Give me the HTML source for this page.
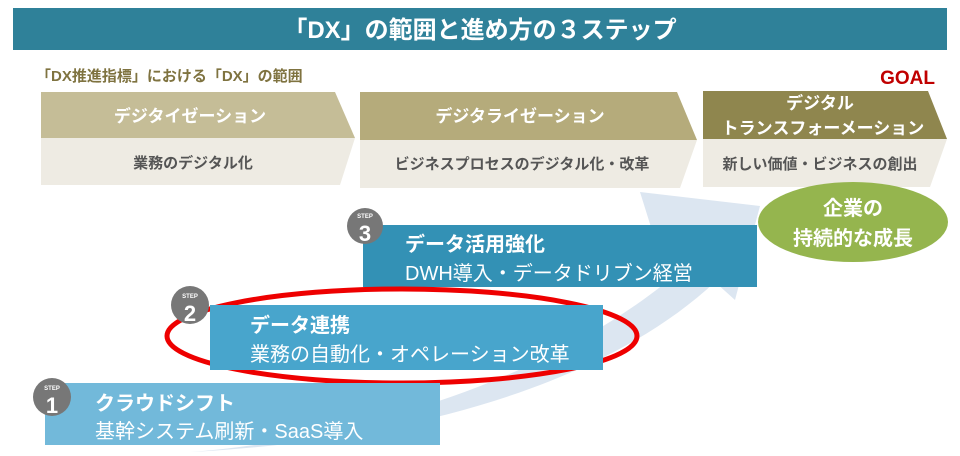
<!DOCTYPE html>
<html><head><meta charset="utf-8"><style>
body{margin:0;background:#fff}
svg{display:block;font-family:"Liberation Sans","Noto Sans CJK JP",sans-serif}
</style></head><body>
<svg width="960" height="456" viewBox="0 0 960 456">
<rect x="13" y="8" width="934" height="42" fill="#2f8199"/>
<text x="480" y="38" text-anchor="middle" fill="#fff" font-size="24" font-weight="bold">「DX」の範囲と進め方の３ステップ</text>
<text x="36" y="81" fill="#7f7340" font-size="15" font-weight="bold">「DX推進指標」における「DX」の範囲</text>
<text x="935" y="84" text-anchor="end" fill="#c00000" font-size="19" font-weight="bold">GOAL</text>

<path d="M41 138 H355 L340 185 H41Z" fill="#eeebe3"/>
<path d="M41 92 H335 L355 138 H41Z" fill="#c5bd97"/>
<path d="M360 140 H697 L680 188 H360Z" fill="#eeebe3"/>
<path d="M360 92 H677 L697 140 H360Z" fill="#b5ab7b"/>
<path d="M703 139 H947 L930 187 H703Z" fill="#eeebe3"/>
<path d="M703 91 H928 L947 139 H703Z" fill="#8f864e"/>
<g fill="#fff" font-size="17" font-weight="bold" text-anchor="middle">
<text x="190" y="122">デジタイゼーション</text>
<text x="520" y="122">デジタライゼーション</text>
<text x="820" y="109">デジタル</text>
<text x="823" y="134">トランスフォーメーション</text>
</g>
<g fill="#555" font-size="15" font-weight="bold" text-anchor="middle">
<text x="193" y="168">業務のデジタル化</text>
<text x="522" y="169">ビジネスプロセスのデジタル化・改革</text>
<text x="820" y="169">新しい価値・ビジネスの創出</text>
</g>

<path d="M190 452 C350 440 560 380 690 262 L655 240 L640 192 L760 206 L735 300 L715 282 C610 380 420 440 190 452Z" fill="#dce6f1"/>

<ellipse cx="853" cy="222" rx="95" ry="40" fill="#95b54e"/>
<g fill="#fff" font-size="20" font-weight="bold" text-anchor="middle">
<text x="853" y="215">企業の</text>
<text x="853" y="245">持続的な成長</text>
</g>

<rect x="363" y="225" width="394" height="62" fill="#3391b5"/>
<ellipse cx="402" cy="336" rx="235" ry="47" fill="none" stroke="#ee0000" stroke-width="5"/>
<rect x="210" y="305" width="393" height="65" fill="#48a5cc"/>
<rect x="45" y="383" width="395" height="62" fill="#72b9da"/>

<g fill="#fff">
<text x="405" y="251" font-size="20" font-weight="bold">データ活用強化</text>
<text x="405" y="280" font-size="20">DWH導入・データドリブン経営</text>
<text x="250" y="332" font-size="20" font-weight="bold">データ連携</text>
<text x="250" y="361" font-size="20">業務の自動化・オペレーション改革</text>
<text x="95" y="410" font-size="20" font-weight="bold">クラウドシフト</text>
<text x="95" y="438" font-size="20">基幹システム刷新・SaaS導入</text>
</g>

<g fill="#777"><circle cx="365" cy="226" r="18"/><circle cx="190" cy="305" r="19"/><circle cx="52" cy="397" r="19"/></g>
<g fill="#fff" text-anchor="middle" font-weight="bold">
<text x="365" y="218" font-size="6">STEP</text><text x="365" y="241" font-size="22">3</text>
<text x="190" y="298" font-size="6">STEP</text><text x="190" y="321" font-size="22">2</text>
<text x="52" y="390" font-size="6">STEP</text><text x="52" y="413" font-size="22">1</text>
</g>
</svg>
</body></html>
